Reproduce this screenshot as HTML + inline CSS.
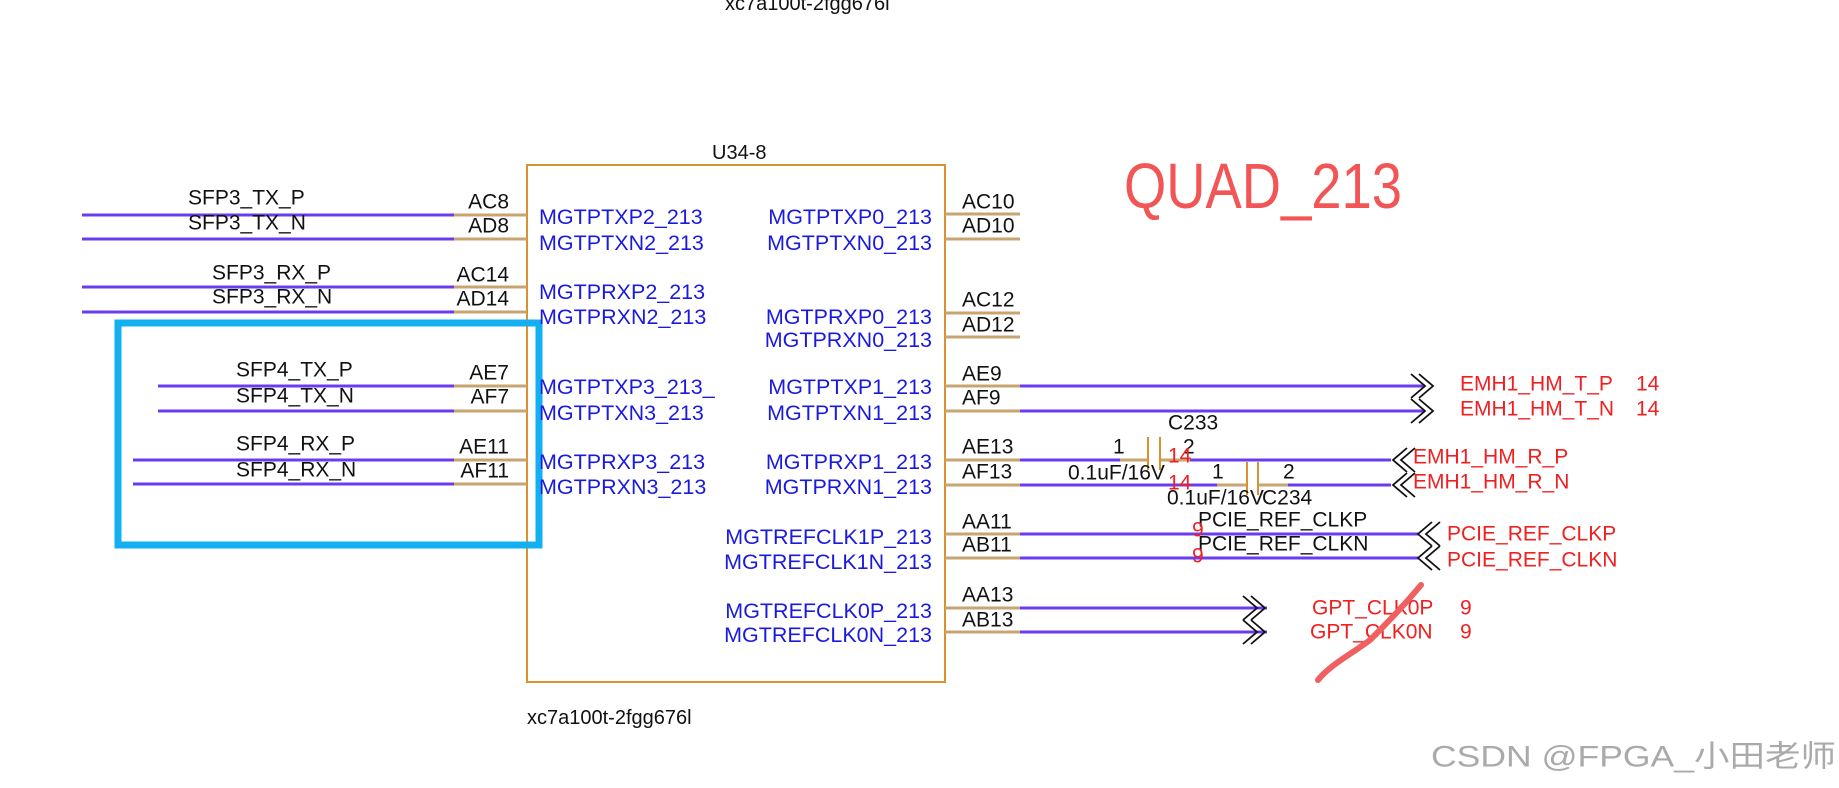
<!DOCTYPE html>
<html><head><meta charset="utf-8"><style>
html,body{margin:0;padding:0;background:#fff;}
svg{display:block;}
text{font-family:"Liberation Sans","Noto Sans CJK SC",sans-serif;}
</style></head><body>
<svg width="1839" height="788" viewBox="0 0 1839 788" xmlns="http://www.w3.org/2000/svg">
<g font-size="20" dominant-baseline="central">
<text x="725" y="4" fill="#111">xc7a100t-2fgg676l</text>
<text x="712" y="153" fill="#111">U34-8</text>
<text x="527" y="718" fill="#111">xc7a100t-2fgg676l</text>
</g>
<rect x="527" y="165" width="418" height="517" fill="none" stroke="#d9922e" stroke-width="2"/>
<text x="1124" y="208" font-size="64" fill="#f25555" textLength="278" lengthAdjust="spacingAndGlyphs">QUAD_213</text>

<g stroke-width="3">
<g stroke="#6a3cf0">
<line x1="82" y1="215" x2="454" y2="215"/><line x1="82" y1="239" x2="454" y2="239"/>
<line x1="82" y1="287" x2="454" y2="287"/><line x1="82" y1="312" x2="454" y2="312"/>
<line x1="158" y1="386" x2="454" y2="386"/><line x1="158" y1="411" x2="454" y2="411"/>
<line x1="133" y1="460" x2="454" y2="460"/><line x1="133" y1="484" x2="454" y2="484"/>
</g>
<g stroke="#c8a570">
<line x1="454" y1="215" x2="527" y2="215"/><line x1="454" y1="239" x2="527" y2="239"/>
<line x1="454" y1="287" x2="527" y2="287"/><line x1="454" y1="312" x2="527" y2="312"/>
<line x1="454" y1="386" x2="527" y2="386"/><line x1="454" y1="411" x2="527" y2="411"/>
<line x1="454" y1="460" x2="527" y2="460"/><line x1="454" y1="484" x2="527" y2="484"/>
<line x1="945" y1="214" x2="1020" y2="214"/><line x1="945" y1="239" x2="1020" y2="239"/>
<line x1="945" y1="313" x2="1020" y2="313"/><line x1="945" y1="337" x2="1020" y2="337"/>
<line x1="945" y1="386" x2="1020" y2="386"/><line x1="945" y1="411" x2="1020" y2="411"/>
<line x1="945" y1="460" x2="1020" y2="460"/><line x1="945" y1="485" x2="1020" y2="485"/>
<line x1="945" y1="534" x2="1020" y2="534"/><line x1="945" y1="558" x2="1020" y2="558"/>
<line x1="945" y1="608" x2="1020" y2="608"/><line x1="945" y1="632" x2="1020" y2="632"/>
<line x1="1120" y1="460" x2="1148" y2="460"/><line x1="1160" y1="460" x2="1190" y2="460"/>
<line x1="1217" y1="485" x2="1247" y2="485"/><line x1="1258" y1="485" x2="1288" y2="485"/>
</g>
<g stroke="#6a3cf0">
<line x1="1020" y1="386" x2="1425" y2="386"/><line x1="1020" y1="411" x2="1425" y2="411"/>
<line x1="1020" y1="460" x2="1120" y2="460"/><line x1="1190" y1="460" x2="1391" y2="460"/>
<line x1="1020" y1="485" x2="1217" y2="485"/><line x1="1288" y1="485" x2="1391" y2="485"/>
<line x1="1020" y1="534" x2="1418" y2="534"/><line x1="1020" y1="558" x2="1418" y2="558"/>
<line x1="1020" y1="608" x2="1267" y2="608"/><line x1="1020" y1="632" x2="1267" y2="632"/>
</g>
</g>
<g stroke="#d9922e" stroke-width="2">
<line x1="1148" y1="437" x2="1148" y2="470"/><line x1="1160" y1="437" x2="1160" y2="470"/>
<line x1="1247" y1="462" x2="1247" y2="495"/><line x1="1258" y1="462" x2="1258" y2="495"/>
</g>
<g fill="none" stroke="#111" stroke-width="1.8">
<path d="M1411,374 L1425,386 L1411,398 M1419,374 L1433,386 L1419,398"/>
<path d="M1411,399 L1425,411 L1411,423 M1419,399 L1433,411 L1419,423"/>
<path d="M1407,448 L1393,460 L1407,472 M1415,448 L1401,460 L1415,472"/>
<path d="M1407,473 L1393,485 L1407,497 M1415,473 L1401,485 L1415,497"/>
<path d="M1432,522 L1418,534 L1432,546 M1440,522 L1426,534 L1440,546"/>
<path d="M1432,546 L1418,558 L1432,570 M1440,546 L1426,558 L1440,570"/>
<path d="M1243,596 L1257,608 L1243,620 M1251,596 L1265,608 L1251,620"/>
<path d="M1243,620 L1257,632 L1243,644 M1251,620 L1265,632 L1251,644"/>
</g>
<rect x="118" y="323" width="421" height="222" fill="none" stroke="#12b0f0" stroke-width="7"/>

<g font-size="21" dominant-baseline="central" fill="#111">
<text x="188" y="198">SFP3_TX_P</text><text x="188" y="223">SFP3_TX_N</text>
<text x="212" y="273">SFP3_RX_P</text><text x="212" y="297">SFP3_RX_N</text>
<text x="236" y="370">SFP4_TX_P</text><text x="236" y="396">SFP4_TX_N</text>
<text x="236" y="444">SFP4_RX_P</text><text x="236" y="470">SFP4_RX_N</text>
<g text-anchor="end">
<text x="509" y="202">AC8</text><text x="509" y="226">AD8</text>
<text x="509" y="275">AC14</text><text x="509" y="299">AD14</text>
<text x="509" y="373">AE7</text><text x="509" y="397">AF7</text>
<text x="509" y="447">AE11</text><text x="509" y="471">AF11</text>
</g>
<text x="962" y="202">AC10</text><text x="962" y="226">AD10</text>
<text x="962" y="300">AC12</text><text x="962" y="325">AD12</text>
<text x="962" y="374">AE9</text><text x="962" y="398">AF9</text>
<text x="962" y="447">AE13</text><text x="962" y="472">AF13</text>
<text x="962" y="522">AA11</text><text x="962" y="545">AB11</text>
<text x="962" y="595">AA13</text><text x="962" y="620">AB13</text>
<text x="1168" y="423">C233</text>
<text x="1113" y="447">1</text><text x="1183" y="447">2</text>
<text x="1068" y="473">0.1uF/16V</text>
<text x="1212" y="472">1</text><text x="1283" y="472">2</text>
<text x="1167" y="498">0.1uF/16V</text><text x="1262" y="498">C234</text>
<text x="1198" y="520">PCIE_REF_CLKP</text><text x="1198" y="544">PCIE_REF_CLKN</text>
</g>
<g font-size="21.5" dominant-baseline="central" fill="#1a1adc">
<text x="539" y="217">MGTPTXP2_213</text><text x="539" y="243">MGTPTXN2_213</text>
<text x="539" y="292">MGTPRXP2_213</text><text x="539" y="317">MGTPRXN2_213</text>
<text x="539" y="387">MGTPTXP3_213_</text><text x="539" y="413">MGTPTXN3_213</text>
<text x="539" y="462">MGTPRXP3_213</text><text x="539" y="487">MGTPRXN3_213</text>
<g text-anchor="end">
<text x="932" y="217">MGTPTXP0_213</text><text x="932" y="243">MGTPTXN0_213</text>
<text x="932" y="317">MGTPRXP0_213</text><text x="932" y="340">MGTPRXN0_213</text>
<text x="932" y="387">MGTPTXP1_213</text><text x="932" y="413">MGTPTXN1_213</text>
<text x="932" y="462">MGTPRXP1_213</text><text x="932" y="487">MGTPRXN1_213</text>
<text x="932" y="537">MGTREFCLK1P_213</text><text x="932" y="562">MGTREFCLK1N_213</text>
<text x="932" y="611">MGTREFCLK0P_213</text><text x="932" y="635">MGTREFCLK0N_213</text>
</g>
</g>
<g font-size="21" dominant-baseline="central" fill="#f02020">
<text x="1460" y="384">EMH1_HM_T_P</text><text x="1636" y="384">14</text>
<text x="1460" y="409">EMH1_HM_T_N</text><text x="1636" y="409">14</text>
<text x="1413" y="457">EMH1_HM_R_P</text><text x="1413" y="482">EMH1_HM_R_N</text>
<text x="1447" y="534">PCIE_REF_CLKP</text><text x="1447" y="560">PCIE_REF_CLKN</text>
<text x="1312" y="608">GPT_CLK0P</text><text x="1460" y="608">9</text>
<text x="1310" y="632">GPT_CLK0N</text><text x="1460" y="632">9</text>
<text x="1168" y="456">14</text><text x="1168" y="483">14</text>
<text x="1192" y="530">9</text><text x="1192" y="556">9</text>
</g>
<path d="M1421,585 C1400,610 1385,625 1370,640 C1350,655 1330,665 1318,680" fill="none" stroke="#f06060" stroke-width="6" stroke-linecap="round"/>
<text x="1431" y="757" font-size="30" dominant-baseline="central" fill="#aaaaaa" textLength="405" lengthAdjust="spacingAndGlyphs">CSDN @FPGA_小田老师</text>
</svg>
</body></html>
